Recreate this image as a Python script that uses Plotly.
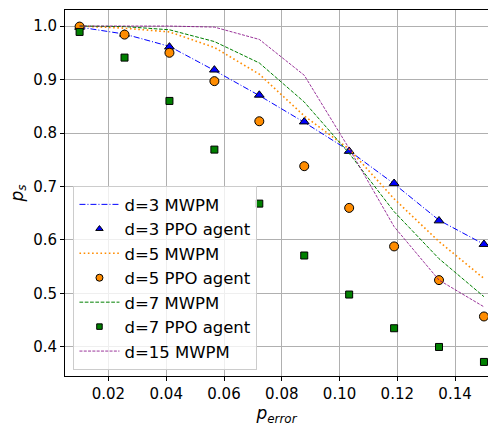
import plotly.graph_objects as go

# error probabilities (10 evenly spaced points)
p_error = [0.01, 0.02556, 0.04111, 0.05667, 0.07222, 0.08778, 0.10333, 0.11889, 0.13444, 0.15]

# MWPM success probability per code distance
mwpm_d3 = [0.998, 0.985, 0.962, 0.917, 0.870, 0.820, 0.767, 0.705, 0.637, 0.592]
mwpm_d5 = [1.000, 0.996, 0.989, 0.960, 0.910, 0.832, 0.770, 0.677, 0.597, 0.528]
mwpm_d7 = [1.000, 0.999, 0.993, 0.971, 0.931, 0.858, 0.762, 0.653, 0.565, 0.494]
mwpm_d15 = [1.000, 1.000, 1.000, 0.998, 0.975, 0.908, 0.771, 0.625, 0.525, 0.475]

# PPO agent success probability
ppo_d3 = [0.998, 0.985, 0.961, 0.918, 0.871, 0.821, 0.766, 0.706, 0.636, 0.592]
ppo_d5 = [0.999, 0.984, 0.950, 0.897, 0.822, 0.738, 0.660, 0.588, 0.525, 0.457]
ppo_d7 = [0.989, 0.941, 0.860, 0.769, 0.668, 0.571, 0.498, 0.435, 0.400, 0.372]

x_ticks = [0.02, 0.04, 0.06, 0.08, 0.10, 0.12, 0.14]
y_ticks = [0.4, 0.5, 0.6, 0.7, 0.8, 0.9, 1.0]

FONT = "DejaVu Sans"
BLUE, ORANGE, GREEN, PURPLE = "#0000ff", "#ff8c00", "#008000", "#800080"

line_d3 = dict(color=BLUE, width=1, dash="6px,2px,1px,2px")
line_d5 = dict(color=ORANGE, width=1.6, dash="1.6px,2.6px")
line_d7 = dict(color=GREEN, width=1, dash="3.7px,1.6px")
line_d15 = dict(color=PURPLE, width=0.8, dash="3px,1.3px")
edge = dict(color="black", width=1)

fig = go.Figure()
# data traces
fig.add_trace(go.Scatter(x=p_error, y=mwpm_d3, mode="lines", line=line_d3, showlegend=False))
fig.add_trace(go.Scatter(x=p_error, y=ppo_d3, mode="markers", showlegend=False,
                         marker=dict(symbol="triangle-up", size=8.5, color=BLUE, line=edge)))
fig.add_trace(go.Scatter(x=p_error, y=mwpm_d5, mode="lines", line=line_d5, showlegend=False))
fig.add_trace(go.Scatter(x=p_error, y=ppo_d5, mode="markers", showlegend=False,
                         marker=dict(symbol="circle", size=9, color=ORANGE, line=edge)))
fig.add_trace(go.Scatter(x=p_error, y=mwpm_d7, mode="lines", line=line_d7, showlegend=False))
fig.add_trace(go.Scatter(x=p_error, y=ppo_d7, mode="markers", showlegend=False,
                         marker=dict(symbol="square", size=7, color=GREEN, line=edge)))
fig.add_trace(go.Scatter(x=p_error, y=mwpm_d15, mode="lines", line=line_d15, showlegend=False))

# legend entries (smaller symbols)
legend_items = [
    ("d=3 MWPM", dict(mode="lines", line=line_d3)),
    ("d=3 PPO agent", dict(mode="markers", marker=dict(symbol="triangle-up", size=6.5, color=BLUE, line=edge))),
    ("d=5 MWPM", dict(mode="lines", line=line_d5)),
    ("d=5 PPO agent", dict(mode="markers", marker=dict(symbol="circle", size=7, color=ORANGE, line=edge))),
    ("d=7 MWPM", dict(mode="lines", line=line_d7)),
    ("d=7 PPO agent", dict(mode="markers", marker=dict(symbol="square", size=5.5, color=GREEN, line=edge))),
    ("d=15 MWPM", dict(mode="lines", line=line_d15)),
]
for name, style in legend_items:
    fig.add_trace(go.Scatter(x=[None], y=[None], name=name, showlegend=True, **style))

axis_common = dict(
    showgrid=True, gridcolor="#b0b0b0", gridwidth=1,
    showline=True, linecolor="black", linewidth=1,
    ticks="outside", ticklen=4, tickcolor="black",
    tickfont=dict(family=FONT, size=15, color="black"),
    zeroline=False,
)

fig.update_xaxes(
    range=[0.00495, 0.1514], tickvals=x_ticks, tickformat=".2f", mirror=True,
    title=dict(text="<i>p</i><sub><i>error</i></sub>", font=dict(family=FONT, size=17, color="black"),
               standoff=2),
    **axis_common,
)
fig.update_yaxes(
    range=[0.3457, 1.0300], tickvals=y_ticks, tickformat=".1f",
    title=dict(text="<i>p</i><sub><i>s</i></sub>", font=dict(family=FONT, size=17, color="black"),
               standoff=5),
    **axis_common,
)

fig.update_layout(
    width=488, height=426,
    margin=dict(l=65, r=0, t=10, b=50),
    paper_bgcolor="white", plot_bgcolor="white",
    font=dict(family=FONT, size=15, color="black"),
    legend=dict(
        x=0.02, y=0.016, xanchor="left", yanchor="bottom",
        bgcolor="rgba(255,255,255,0.8)", bordercolor="#cccccc", borderwidth=1,
        font=dict(family=FONT, size=16.5, color="black"),
        itemwidth=40, tracegroupgap=0,
    ),
)

fig.write_html("out.html")
